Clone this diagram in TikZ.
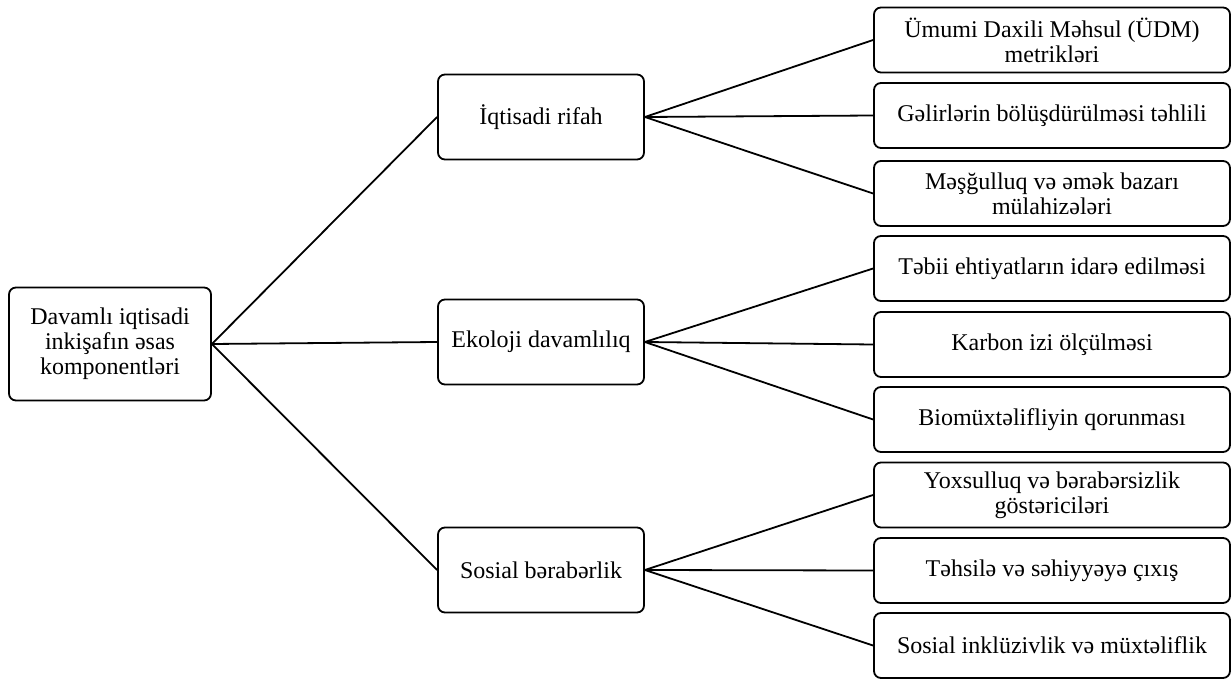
\documentclass[tikz,border=0pt]{standalone}
\usepackage{fontspec}
\setmainfont{Liberation Serif}
\usepackage{tikz}
\usetikzlibrary{shapes, calc}

\begin{document}
\begin{tikzpicture}[x=1pt, y=-1pt, line width=1.8pt,
		box/.style={draw, rounded corners=7pt, align=center, inner sep=2pt, font=\fontsize{24}{25}\selectfont},
		rootbox/.style={box, minimum width=202pt, minimum height=113pt},
		midbox/.style={box, minimum width=206pt, minimum height=85pt},
		leafbox/.style={box, minimum width=356pt, minimum height=65pt}]
	
		\useasboundingbox (0,0) rectangle (1232,679);
	
		\node[rootbox] (root) at (110,344)    {Davamlı iqtisadi\\inkişafın əsas\\komponentləri};
		
		\node[midbox] (econ) at (541,117) 	{İqtisadi rifah};
		\node[midbox] (eco) at (541,342) 	{Ekoloji davamlılıq};
		\node[midbox] (soc) at (541,570) 	{Sosial bərabərlik};
		
		\node[leafbox] (gdp) at (1052,40) 		{Ümumi Daxili Məhsul (ÜDM)\\metrikləri};
		\node[leafbox] (income) at (1052,115.5) 	{Gəlirlərin bölüşdürülməsi təhlili};
		\node[leafbox] (jobs) at (1052,193.5) 		{Məşğulluq və əmək bazarı\\mülahizələri};
		\node[leafbox] (res) at (1052,268.5) 		{Təbii ehtiyatların idarə edilməsi};
		\node[leafbox] (carbon) at (1052,344.5) 	{Karbon izi ölçülməsi};
		\node[leafbox] (bio) at (1052,419.5) 		{Biomüxtəlifliyin qorunması};
		\node[leafbox] (pov) at (1052,495) 		{Yoxsulluq və bərabərsizlik\\göstəriciləri};
		\node[leafbox] (edu) at (1052,570.5) 		{Təhsilə və səhiyyəyə çıxış};
		\node[leafbox] (incl) at (1052,645.5) 		{Sosial inklüzivlik və müxtəliflik};
		
		\draw (root.east) -- (econ.west);
		\draw (root.east) -- (eco.west);
		\draw (root.east) -- (soc.west);
		
		\draw (econ.east) -- (gdp.west);
		\draw (econ.east) -- (income.west);
		\draw (econ.east) -- (jobs.west);
		
		\draw (eco.east) -- (res.west);
		\draw (eco.east) -- (carbon.west);
		\draw (eco.east) -- (bio.west);
		
		\draw (soc.east) -- (pov.west);
		\draw (soc.east) -- (edu.west);
		\draw (soc.east) -- (incl.west);
			
	\end{tikzpicture}
\end{document}
